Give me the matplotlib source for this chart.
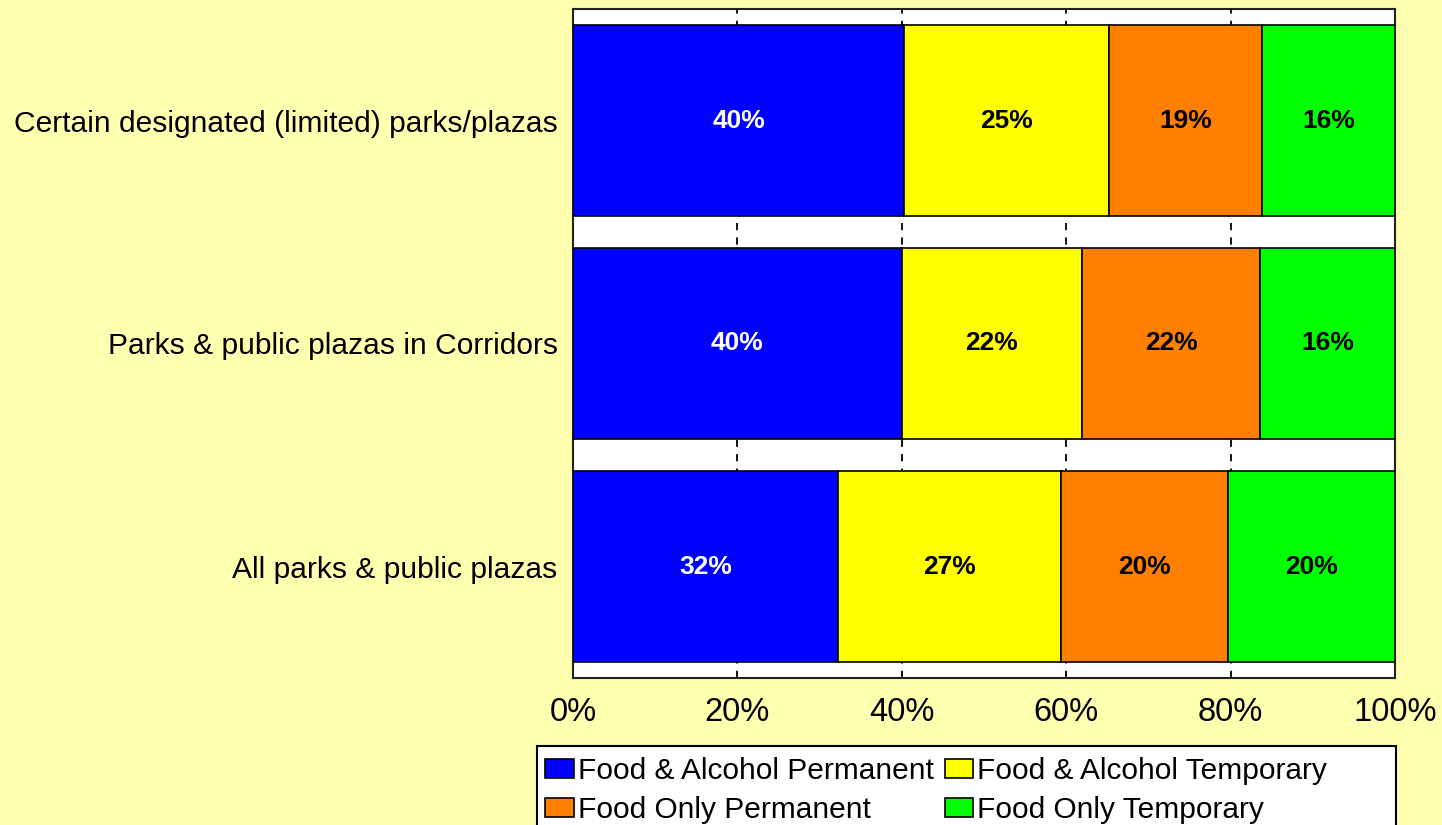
import numpy as np
import matplotlib.pyplot as plt
from matplotlib.patches import Rectangle

plt.rcParams['font.family'] = ['Liberation Sans', 'DejaVu Sans']

# dados (percentagens)
categorias = ['Certain designated (limited) parks/plazas',
              'Parks & public plazas in Corridors',
              'All parks & public plazas']
series = ['Food & Alcohol Permanent', 'Food & Alcohol Temporary',
          'Food Only Permanent', 'Food Only Temporary']
fa_perm = [40.3, 40.0, 32.2]
fa_temp = [24.9, 21.9, 27.2]
fo_perm = [18.6, 21.7, 20.3]
fo_temp = [16.2, 16.4, 20.3]
rotulos = [['40%', '25%', '19%', '16%'],
           ['40%', '22%', '22%', '16%'],
           ['32%', '27%', '20%', '20%']]

cores = ['#0000FF', '#FFFF00', '#FF8000', '#00FF00']
cor_texto = ['white', 'black', 'black', 'black']
fundo = '#FFFFB0'

fig = plt.figure(figsize=(14.42, 8.25), dpi=100, facecolor=fundo)
ax = fig.add_axes([573/1442, 1 - 678/825, 822/1442, 669/825])
ax.set_facecolor('white')

y = np.arange(len(categorias))
valores = [fa_perm, fa_temp, fo_perm, fo_temp]
base = np.zeros(len(categorias))
handles = []
for k, v in enumerate(valores):
    v = np.array(v)
    barras = ax.barh(y, v, left=base, height=0.86, color=cores[k],
                     edgecolor='black', linewidth=1.2, label=series[k], zorder=3)
    handles.append(barras)
    for i, b in enumerate(barras):
        ax.text(base[i] + v[i] / 2, y[i], rotulos[i][k], ha='center', va='center',
                fontsize=19, fontweight='bold', color=cor_texto[k], zorder=4)
    base += v

ax.set_xlim(0, 100)
ax.set_ylim(2.5, -0.5)
ax.set_xticks([0, 20, 40, 60, 80, 100])
ax.set_xticklabels(['0%', '20%', '40%', '60%', '80%', '100%'], fontsize=23.5)
ax.set_yticks(y)
ax.set_yticklabels(categorias, fontsize=21.6)
ax.tick_params(axis='y', length=0, pad=11)
ax.tick_params(axis='x', length=0, pad=14)
for xv in [20, 40, 60, 80]:
    ax.axvline(xv, color='black', linestyle=(0, (4, 4)), linewidth=1.3, zorder=1)
for s in ax.spines.values():
    s.set_linewidth(1.5)
    s.set_color('#222222')

# legenda com caixa própria (cortada na borda inferior)
fig.patches.append(Rectangle((537/1442, 1 - 900/825), 859/1442, 154/825,
                             transform=fig.transFigure, facecolor='white',
                             edgecolor='black', linewidth=1.5, zorder=0))
ordem = [0, 2, 1, 3]  # preencher por linhas
leg = fig.legend([handles[i] for i in ordem], [series[i] for i in ordem],
                 loc='upper left', bbox_to_anchor=(532/1442, 1 - 744/825), ncol=2,
                 fontsize=21.5, frameon=False, handlelength=0.95, handleheight=0.6,
                 handletextpad=0.15, columnspacing=0.35, labelspacing=0.35,
                 borderpad=0.45, borderaxespad=0)
for h in leg.legend_handles:
    h.set_linewidth(1.2)

fig.savefig('out.png', dpi=100, facecolor=fundo)
